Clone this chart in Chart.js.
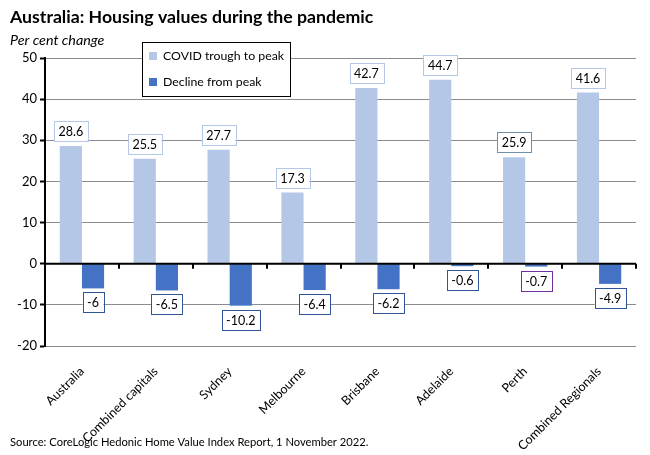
<!DOCTYPE html>
<html>
<head>
<meta charset="utf-8">
<script src="https://cdn.jsdelivr.net/npm/chart.js@4.4.1/dist/chart.umd.min.js"></script>
<style>
  html, body { margin: 0; padding: 0; background: #fff; }
  #wrap { width: 650px; height: 455px; position: relative; }
</style>
</head>
<body>
<div id="wrap"><canvas id="housingChart"></canvas></div>
<script>
// Chart data
const categories = ['Australia', 'Combined capitals', 'Sydney', 'Melbourne', 'Brisbane', 'Adelaide', 'Perth', 'Combined Regionals'];
const troughToPeak = [28.6, 25.5, 27.7, 17.3, 42.7, 44.7, 25.9, 41.6];
const declineFromPeak = [-6, -6.5, -10.2, -6.4, -6.2, -0.6, -0.7, -4.9];
const yTicks = [-20, -10, 0, 10, 20, 30, 40, 50];

const FONT = 'Lato, "Noto Sans", sans-serif';

// ============================================
// TEXT, LEGEND, LABELS
// ============================================

const headingPlugin = {
    id: 'heading',
    afterDraw(chart) {
        const c = chart.ctx;
        c.save();
        c.fillStyle = '#000';
        c.textAlign = 'left';
        c.textBaseline = 'middle';
        c.font = 'bold 17.7px ' + FONT;
        c.fillText('Australia: Housing values during the pandemic', 10, 17);
        c.font = 'italic 14.3px ' + FONT;
        c.fillText('Per cent change', 10, 40);
        c.font = '11.2px ' + FONT;
        c.fillText('Source: CoreLogic Hedonic Home Value Index Report, 1 November 2022.', 10, 442);
        c.restore();
    }
};

const legendBoxPlugin = {
    id: 'legendBox',
    afterDraw(chart) {
        const c = chart.ctx;
        const area = chart.chartArea;
        const x = area.left + 97;
        const y = area.top - 16;
        c.save();
        c.fillStyle = '#fff';
        c.fillRect(x, y, 148, 54);
        c.strokeStyle = '#000';
        c.lineWidth = 1;
        c.strokeRect(x + 0.5, y + 0.5, 148, 54);
        c.font = '12.3px ' + FONT;
        c.textBaseline = 'middle';
        chart.data.datasets.forEach((ds, i) => {
            const cy = y + 14 + i * 26;
            c.fillStyle = ds.backgroundColor;
            c.fillRect(x + 7, cy - 4, 8, 8);
            c.fillStyle = '#000';
            c.fillText(ds.label, x + 21, cy);
        });
        c.restore();
    }
};

const barLabelPlugin = {
    id: 'barLabels',
    afterDatasetsDraw(chart) {
        const c = chart.ctx;
        const area = chart.chartArea;
        const ys = chart.scales.y;
        const zeroY = ys.getPixelForValue(0);

        c.save();
        // zero line with category tick marks
        c.strokeStyle = '#000';
        c.lineWidth = 2;
        c.beginPath();
        c.moveTo(area.left, zeroY);
        c.lineTo(area.right, zeroY);
        const step = (area.right - area.left) / categories.length;
        for (let i = 1; i <= categories.length; i++) {
            const tx = Math.round(area.left + i * step);
            c.moveTo(tx, zeroY);
            c.lineTo(tx, zeroY + 5);
        }
        c.stroke();

        c.font = '12.5px ' + FONT;
        c.textAlign = 'center';
        c.textBaseline = 'middle';
        chart.data.datasets.forEach((ds, di) => {
            const meta = chart.getDatasetMeta(di);
            meta.data.forEach((bar, i) => {
                const v = ds.data[i];
                const text = String(v);
                const w = c.measureText(text).width + 9;
                const h = 20;
                const top = v >= 0 ? bar.y - 5 - h : bar.y + 4;
                const left = bar.x - w / 2;
                c.fillStyle = '#fff';
                c.fillRect(left, top, w, h);
                c.strokeStyle = ds.labelBorders[i];
                c.lineWidth = 1;
                c.strokeRect(Math.round(left) + 0.5, Math.round(top) + 0.5, Math.round(w), h);
                c.fillStyle = '#000';
                c.fillText(text, bar.x, top + h / 2 + 1);
            });
        });
        c.restore();
    }
};

// ============================================
// CHART
// ============================================

const lightBorder = '#b4c7e7';
const darkBorder = '#2f5597';

new Chart(document.getElementById('housingChart'), {
    type: 'bar',
    data: {
        labels: categories,
        datasets: [
            {
                label: 'COVID trough to peak',
                data: troughToPeak,
                backgroundColor: '#b4c7e7',
                labelBorders: [lightBorder, lightBorder, lightBorder, lightBorder, lightBorder, lightBorder, '#6f90ab', lightBorder],
                categoryPercentage: 0.6,
                barPercentage: 1.0
            },
            {
                label: 'Decline from peak',
                data: declineFromPeak,
                backgroundColor: '#4472c4',
                labelBorders: [darkBorder, darkBorder, darkBorder, darkBorder, darkBorder, darkBorder, '#7030a0', darkBorder],
                categoryPercentage: 0.6,
                barPercentage: 1.0
            }
        ]
    },
    options: {
        responsive: true,
        maintainAspectRatio: false,
        animation: false,
        layout: {
            padding: { left: 0, right: 14, top: 58, bottom: 0 }
        },
        plugins: {
            legend: { display: false },
            title: { display: false },
            tooltip: { enabled: false }
        },
        scales: {
            x: {
                grid: { display: false },
                border: { display: false },
                ticks: {
                    color: '#000',
                    font: { family: FONT, size: 12.5 },
                    minRotation: 45,
                    maxRotation: 45,
                    autoSkip: false,
                    padding: 10
                },
                afterFit(scale) {
                    scale.height = 109;
                }
            },
            y: {
                min: -20,
                max: 50,
                afterBuildTicks(scale) {
                    scale.ticks = yTicks.map(v => ({ value: v }));
                },
                border: { display: true, color: '#000', width: 2 },
                grid: {
                    color: '#8c8c8c',
                    lineWidth: 1,
                    tickColor: '#000',
                    tickWidth: 2,
                    tickLength: 5
                },
                ticks: {
                    color: '#000',
                    font: { family: FONT, size: 13 },
                    padding: 3
                },
                afterFit(scale) {
                    scale.width = 45;
                }
            }
        }
    },
    plugins: [headingPlugin, legendBoxPlugin, barLabelPlugin]
});
</script>
</body>
</html>
